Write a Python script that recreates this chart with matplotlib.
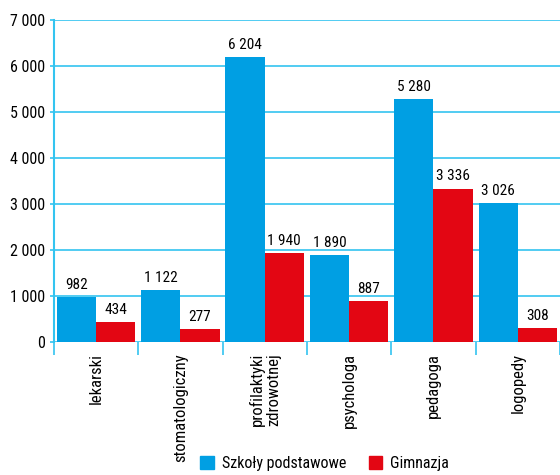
import matplotlib.pyplot as plt
import numpy as np
from matplotlib.ticker import FuncFormatter
from matplotlib.patches import Patch

categories = ["lekarski", "stomatologiczny", "profilaktyki\nzdrowotnej",
              "psychologa", "pedagoga", "logopedy"]
szkoly = [982, 1122, 6204, 1890, 5280, 3026]
gimnazja = [434, 277, 1940, 887, 3336, 308]

blue = "#009fe3"
red = "#e30613"
grid_col = "#33c4f0"

plt.rcParams['font.family'] = ['Roboto Condensed', 'DejaVu Sans']


def fmt(v, pos=None):
    return f"{int(v):,}".replace(",", " ")


fig = plt.figure(figsize=(5.6, 4.75), dpi=100)
ax = fig.add_axes([0.096, 0.28, 0.904, 0.678])

x = np.arange(len(categories))
w = 0.465
b1 = ax.bar(x - w / 2, szkoly, w, color=blue, zorder=3)
b2 = ax.bar(x + w / 2, gimnazja, w, color=red, zorder=3)

for bars, vals in ((b1, szkoly), (b2, gimnazja)):
    for r, v in zip(bars, vals):
        ax.text(r.get_x() + r.get_width() / 2, v + 110, fmt(v),
                ha='center', va='bottom', fontsize=11, zorder=4)

ax.set_xlim(-0.5, len(categories) - 0.5)
ax.set_ylim(0, 7000)
ax.set_yticks(np.arange(0, 7001, 1000))
ax.yaxis.set_major_formatter(FuncFormatter(fmt))
ax.grid(axis='y', color=grid_col, linewidth=1.2, zorder=0)

ax.set_xticks(x)
ax.set_xticklabels(categories, rotation=90, va='top', ha='center',
                   fontsize=12, linespacing=1.1)
ax.set_xticks(np.arange(-0.5, len(categories), 1), minor=True)
ax.tick_params(axis='x', which='major', length=0, pad=8)
ax.tick_params(axis='x', which='minor', length=9, width=1.2, color=grid_col)
ax.tick_params(axis='y', length=3, width=1.2, color=grid_col, labelsize=11.5, pad=3)

for s in ('top', 'right', 'bottom'):
    ax.spines[s].set_visible(False)
ax.spines['left'].set_color(grid_col)
ax.spines['left'].set_linewidth(1.5)

handles = [Patch(color=blue, label="Szkoły podstawowe"),
           Patch(color=red, label="Gimnazja")]
fig.legend(handles=handles, loc='lower center', bbox_to_anchor=(0.58, -0.022),
           ncol=2, frameon=False, fontsize=11.5, handlelength=0.85,
           handleheight=0.85, columnspacing=1.4, handletextpad=0.5)

fig.savefig("out.png", dpi=100)
